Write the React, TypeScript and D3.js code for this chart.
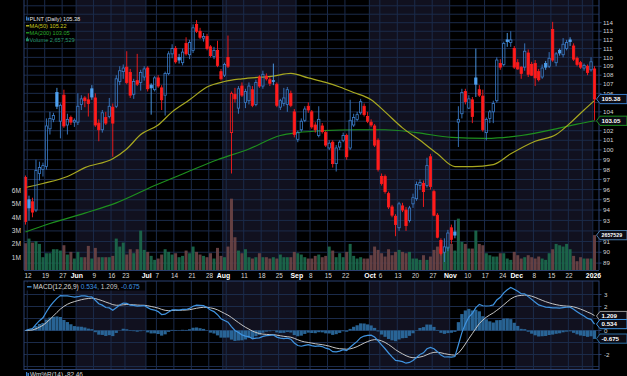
import React from "react";
import * as d3 from "d3";

// ---------- DATA ----------
const OPEN = [
  97.2, 95.0, 94.8, 94.0, 97.6, 98.0, 98.3, 102.2, 103.2, 106.1,
  103.0, 105.8, 102.6, 103.4, 102.9, 102.9, 104.8, 105.5, 105.3, 106.5,
  105.5, 102.8, 102.1, 103.4, 103.5, 104.5, 104.6, 107.3, 108.4, 108.9,
  108.3, 105.9, 107.4, 107.2, 107.8, 108.8, 106.9, 106.4, 107.7, 106.6,
  105.8, 108.2, 110.4, 111.0, 110.0, 109.4, 111.6, 110.3, 110.8, 113.8,
  113.0, 112.2, 112.4, 111.2, 110.1, 110.8, 108.4, 108.0, 110.0, 101.8,
  105.9, 104.4, 106.8, 105.0, 105.2, 106.4, 104.8, 107.8, 106.8, 107.9,
  107.5, 107.4, 107.0, 104.5, 104.9, 104.8, 106.0, 104.0, 101.1, 102.1,
  103.1, 104.6, 104.0, 102.6, 101.5, 102.5, 101.8, 100.2, 100.8, 98.6,
  100.3, 101.0, 101.5, 100.2, 102.6, 103.2, 103.9, 104.6, 103.5, 102.9,
  102.5, 101.0, 97.3, 97.3, 95.6, 94.3, 93.4, 92.3, 94.4, 94.0,
  93.0, 94.6, 95.1, 96.4, 96.6, 96.4, 99.3, 95.8, 93.5, 91.1,
  90.0, 90.4, 92.3, 91.9, 102.9, 103.8, 106.2, 104.4, 105.3, 107.7,
  106.4, 105.7, 101.8, 103.3, 104.0, 105.2, 109.3, 109.2, 112.0, 111.7,
  111.0, 109.4, 108.9, 108.9, 110.5, 109.2, 109.3, 108.4, 107.8, 109.3,
  109.0, 113.2, 109.4, 110.8, 110.3, 111.0, 112.0, 111.3, 109.9, 109.4,
  108.8, 109.0, 108.6, 108.7,
];
const HIGH = [
  97.4, 95.4, 95.2, 99.0, 98.8, 98.7, 103.3, 104.0, 103.9, 106.6,
  104.9, 106.4, 103.8, 103.6, 103.3, 106.0, 105.8, 105.7, 106.0, 106.9,
  106.0, 103.2, 104.2, 104.0, 105.5, 104.9, 108.0, 109.0, 109.2, 110.7,
  108.7, 107.6, 110.4, 108.6, 109.0, 109.0, 107.1, 107.9, 108.0, 106.9,
  108.4, 110.7, 111.5, 111.3, 110.4, 111.0, 112.3, 112.0, 113.8, 114.3,
  113.4, 112.8, 112.7, 111.4, 111.2, 111.9, 108.7, 109.4, 112.5, 106.2,
  106.6, 106.8, 107.2, 106.5, 107.2, 106.8, 107.5, 108.0, 108.5, 108.2,
  107.8, 109.3, 107.2, 105.4, 106.6, 106.7, 106.3, 104.3, 102.0, 103.3,
  104.6, 105.0, 104.2, 102.9, 104.6, 102.8, 102.0, 101.0, 101.0, 100.5,
  101.0, 101.8, 101.7, 105.3, 103.8, 104.0, 105.4, 104.9, 104.0, 103.2,
  102.7, 101.2, 97.6, 97.5, 95.8, 94.5, 93.6, 94.8, 94.7, 94.3,
  94.4, 95.6, 96.8, 97.0, 96.9, 99.2, 99.6, 96.0, 93.7, 91.3,
  91.3, 92.1, 92.6, 93.0, 104.6, 106.5, 106.5, 105.8, 105.6, 111.0,
  106.9, 106.4, 103.4, 104.2, 105.2, 110.0, 109.8, 111.8, 112.8, 113.0,
  111.3, 109.8, 109.0, 111.6, 110.9, 109.5, 109.7, 108.7, 109.2, 109.6,
  110.6, 114.1, 110.6, 111.0, 112.2, 112.0, 112.3, 111.6, 110.1, 109.6,
  109.3, 109.2, 110.0, 109.0,
];
const LOW = [
  92.6, 93.0, 93.3, 93.8, 96.9, 97.3, 98.0, 101.6, 102.9, 104.3,
  101.2, 102.3, 101.6, 102.6, 102.4, 102.6, 104.2, 104.5, 103.5, 105.3,
  102.4, 100.9, 101.8, 102.6, 103.3, 99.3, 104.4, 106.9, 107.6, 107.0,
  105.5, 105.4, 106.8, 106.3, 107.4, 106.2, 103.7, 106.2, 106.6, 104.2,
  103.6, 108.0, 109.9, 109.3, 109.3, 109.1, 110.2, 109.8, 110.5, 112.8,
  112.1, 111.8, 110.8, 110.0, 109.8, 108.9, 107.4, 107.8, 108.8, 97.6,
  105.0, 103.8, 105.6, 104.4, 104.8, 104.5, 104.6, 106.6, 106.5, 107.4,
  106.8, 106.9, 104.5, 104.2, 104.6, 104.0, 104.5, 101.3, 100.8, 101.9,
  102.9, 103.9, 102.2, 101.8, 101.3, 101.7, 100.3, 100.0, 98.2, 97.8,
  100.0, 100.8, 99.0, 100.0, 102.4, 103.0, 103.7, 103.5, 102.8, 102.4,
  100.3, 97.8, 96.4, 95.6, 94.1, 93.3, 91.5, 92.0, 93.8, 92.0,
  92.8, 94.2, 94.9, 96.0, 94.3, 96.2, 96.0, 93.4, 91.3, 89.7,
  89.1, 90.1, 90.8, 91.3, 100.3, 103.3, 104.8, 104.3, 102.8, 105.6,
  105.6, 101.9, 101.0, 102.8, 102.8, 105.0, 108.6, 109.0, 111.2, 111.2,
  108.7, 108.6, 107.6, 108.5, 107.8, 107.9, 106.8, 107.3, 107.6, 108.6,
  108.8, 109.5, 109.0, 110.2, 110.0, 110.8, 111.3, 109.6, 109.0, 108.7,
  108.5, 108.0, 108.4, 103.1,
];
const CLOSE = [
  92.9, 94.2, 93.8, 97.9, 98.2, 98.4, 102.5, 103.3, 103.6, 104.6,
  104.7, 102.5, 103.2, 102.9, 103.1, 104.6, 105.4, 105.2, 104.9, 105.6,
  102.6, 102.1, 103.9, 102.8, 104.6, 102.8, 107.6, 108.5, 108.8, 107.2,
  105.8, 107.3, 107.0, 108.3, 108.7, 106.5, 106.6, 107.7, 106.8, 105.3,
  108.2, 110.4, 111.0, 109.5, 109.7, 110.6, 110.4, 111.7, 113.4, 113.0,
  112.3, 112.4, 111.0, 110.2, 110.8, 109.1, 107.6, 109.2, 109.0, 106.0,
  105.4, 106.5, 105.8, 106.2, 106.8, 104.7, 107.2, 106.8, 108.1, 107.6,
  107.1, 107.3, 104.7, 105.2, 105.5, 106.4, 104.7, 101.6, 101.8, 103.0,
  104.3, 104.2, 102.4, 102.1, 103.2, 101.9, 100.5, 100.7, 98.6, 100.2,
  100.8, 101.5, 99.3, 103.1, 103.4, 103.7, 105.1, 103.7, 103.0, 102.6,
  100.5, 98.0, 96.6, 95.8, 94.3, 93.5, 92.6, 94.6, 94.0, 92.5,
  94.2, 95.2, 96.5, 96.7, 95.8, 98.4, 96.3, 93.5, 91.4, 89.9,
  90.5, 91.8, 91.2, 91.6, 103.2, 106.1, 105.1, 105.4, 103.5, 107.0,
  105.8, 102.1, 103.2, 104.0, 104.9, 109.7, 108.9, 111.6, 111.8, 112.0,
  108.9, 108.7, 108.2, 110.7, 108.1, 108.0, 107.7, 107.5, 108.8, 108.9,
  109.9, 109.7, 110.4, 110.5, 111.5, 111.7, 111.8, 109.8, 109.2, 108.9,
  109.1, 108.3, 109.5, 105.38,
];
const VOLUME_M = [
  2.05, 2.4, 2.1, 2.2, 2.0, 1.0, 1.3, 1.3, 1.6, 1.6,
  1.5, 1.9, 1.2, 1.4, 0.9, 1.4, 1.0, 1.0, 1.85, 0.9,
  1.7, 1.0, 1.0, 1.0, 1.0, 1.1, 2.4, 1.8, 2.1, 1.2,
  1.6, 1.3, 1.6, 3.0, 1.55, 1.4, 1.1, 0.8, 0.9, 1.2,
  1.6, 1.4, 1.2, 1.3, 1.0, 1.1, 1.5, 1.3, 1.8, 1.4,
  1.2, 1.1, 1.0, 1.3, 0.9, 1.7, 1.1, 1.0, 1.8, 5.4,
  2.5, 1.5, 1.3, 1.6, 1.0, 0.9, 1.0, 1.3, 1.0, 1.0,
  0.9, 1.0, 0.9, 1.2, 1.0, 1.0, 1.0, 1.4, 1.3, 1.2,
  1.0, 0.9, 0.9, 1.1, 1.2, 1.0, 1.1, 1.8, 1.5, 1.0,
  1.3, 1.0, 1.4, 2.0, 1.1, 0.9, 1.0, 0.9, 0.9, 1.15,
  1.8, 1.55, 1.3, 1.05, 1.6, 1.15, 1.4, 1.55, 1.4, 1.3,
  1.4, 0.9, 0.9, 0.8, 1.15, 0.8, 1.05, 1.55, 1.8, 1.65,
  1.4, 1.8, 2.0, 1.5, 3.9, 2.15, 2.0, 1.65, 1.65, 3.0,
  2.0, 1.9, 1.3, 1.15, 1.05, 1.05, 1.3, 1.3, 0.9, 0.8,
  1.4, 1.15, 0.9, 1.0, 1.15, 1.0, 0.9, 1.05, 0.9, 0.8,
  1.3, 1.6, 2.0, 1.9, 1.8, 2.0, 1.6, 1.1, 0.7, 1.0,
  0.9, 0.9, 0.9, 2.66,
];
const MA50_AT = [0, 5, 12, 17, 25, 29, 33, 38, 42, 47, 52, 57, 62, 71, 76, 81, 86, 90, 94, 99, 103, 108, 113, 118, 123, 128, 134, 139, 146, 152, 156, 160, 163];
const MA50_VAL = [96.2, 96.6, 97.3, 98.2, 99.1, 100.1, 101.6, 102.6, 104.0, 105.3, 106.7, 107.3, 107.6, 107.9, 108.2, 107.7, 107.2, 106.7, 106.1, 105.3, 104.0, 102.3, 101.0, 99.6, 98.3, 98.3, 98.5, 99.6, 100.9, 101.6, 102.8, 104.2, 105.22];
const MA200_AT = [0, 7, 17, 26, 37, 46, 55, 64, 73, 78, 85, 95, 103, 112, 122, 132, 142, 152, 158, 163];
const MA200_VAL = [91.9, 92.7, 93.7, 94.7, 96.4, 97.7, 99.0, 100.1, 101.5, 101.8, 102.0, 102.1, 102.1, 101.8, 101.3, 101.2, 101.5, 102.2, 102.7, 103.05];

const PRICE_TICKS = [89, 90, 91, 92, 93, 94, 95, 96, 97, 98, 99, 100, 101, 102, 103, 104, 105, 106, 107, 108, 109, 110, 111, 112, 113, 114];
const PRICE_GRID = [88, 89, 90, 91, 92, 93, 94, 95, 96, 97, 98, 99, 100, 101, 102, 103, 104, 105, 106, 107, 108, 109, 110, 111, 112, 113, 114, 115, 116, 117];
const VOL_TICKS = [1, 2, 3, 4, 5, 6];
const VOL_TICK_TEXT = ["1M", "2M", "3M", "4M", "5M", "6M"];
const MACD_TICKS = [3, 2, 1, 0, -1, -2];
const MACD_GRID = [3, 2, 1, 0, -1, -2, -3];
const DATE_TICK_AT = [1, 6, 11, 15, 20, 25, 29, 35, 38, 43, 48, 53, 57, 63, 68, 73, 78, 82, 87, 92, 99, 102, 107, 112, 117, 122, 127, 132, 137, 141, 146, 151, 156, 163];
const DATE_TICK_TEXT = ["12", "19", "27", "Jun", "9", "16", "23", "Jul", "7", "14", "21", "28", "Aug", "11", "18", "25", "Sep", "8", "15", "22", "Oct", "6", "13", "20", "27", "Nov", "10", "17", "24", "Dec", "8", "15", "22", "2026"];
const DATE_TICK_BOLD = ["Jun", "Jul", "Aug", "Sep", "Oct", "Nov", "Dec", "2026"];
const GRID_EXTRA_AT = [58, 160];
const SHADE_FROM = [15, 57, 99, 141];
const SHADE_TO = [35, 78, 122, 163];
const LAST_PRICE = 105.38;
const LAST_MA200 = 103.05;
const LAST_VOLUME_M = 2.657529;
const LAST_MACD = 0.534;
const LAST_SIGNAL = 1.209;
const LAST_HIST = -0.675;

// ---------- STYLE ----------
const FONT = "'Liberation Sans', Arial, sans-serif";
const STEP = 3.491;
const X0 = 25.5;
const PL = 24, PR = 599;
const MAIN_T = 0, MAIN_B = 270;
const MACD_T = 281, MACD_B = 369.5;
const C_BG = "#000000";
const C_SHADE = "#11111f";
const C_GRID = "#1b2b4a";
const C_BORDER = "#2b4170";
const C_UP = "#3a7cc8";
const C_UPFILL = "#4fa0ee";
const C_DN = "#ff1c1c";
const C_MA50 = "#a8a820";
const C_MA200 = "#1e901e";
const C_VUP = "#1c6a4c";
const C_VDN = "#6c4446";
const C_MACD = "#3f93e0";
const C_SIG = "#c4c4c4";
const C_HIST = "#2c6ea3";
const C_AXIS = "#d4d4d4";

function ema(arr: number[], p: number): number[] {
  const k = 2 / (p + 1);
  const out: number[] = [];
  arr.forEach((v, i) => out.push(i === 0 ? v : v * k + out[i - 1] * (1 - k)));
  return out;
}

export default function App() {
  const n = CLOSE.length;
  const x = d3.scaleLinear().domain([0, n - 1]).range([X0, X0 + (n - 1) * STEP]);
  const yP = d3.scaleLog().domain([89, 114]).range([263.1, 22.7]);
  const yV = d3.scaleLinear().domain([0, 6]).range([270.5, 190.7]);
  const yM = d3.scaleLinear().domain([-3, 3]).range([366.5, 294.5]);

  const e12 = ema(CLOSE, 12);
  const e26 = ema(CLOSE, 26);
  const macd = e12.map((v, i) => v - e26[i]);
  const signal = ema(macd, 9);
  const hist = macd.map((v, i) => v - signal[i]);

  const idx = d3.range(n);
  const up = (i: number) => (i === 0 ? CLOSE[0] >= OPEN[0] : CLOSE[i] >= CLOSE[i - 1]);

  const maLine = d3.line<[number, number]>().x((d) => x(d[0])).y((d) => yP(d[1])).curve(d3.curveMonotoneX);
  const ma50Path = maLine(MA50_AT.map((a, k) => [a, MA50_VAL[k]] as [number, number])) || "";
  const ma200Path = maLine(MA200_AT.map((a, k) => [a, MA200_VAL[k]] as [number, number])) || "";
  const mLine = d3.line<number>().x((_, i) => x(i)).y((d) => yM(d));
  const macdPath = mLine(macd) || "";
  const sigPath = mLine(signal) || "";

  const gridXs = [...DATE_TICK_AT, ...GRID_EXTRA_AT].map((i) => x(i) - STEP / 2);

  const priceTagYs = [yP(LAST_PRICE), yP(LAST_MA200), yV(LAST_VOLUME_M)];
  const macdTagYs = [yM(LAST_SIGNAL), yM(LAST_MACD), yM(LAST_HIST)];
  const clear = (yy: number, tags: number[]) => tags.every((t) => Math.abs(t - yy) >= 5.2);

  const tag = (yc: number, text: string, stroke: string, fs: number, key: string) => (
    <g key={key}>
      <path
        d={`M596.5,${yc} L600,${yc - 4.6} L627,${yc - 4.6} L627,${yc + 4.6} L600,${yc + 4.6} Z`}
        fill="#0b0b14"
        stroke={stroke}
        strokeWidth={1}
      />
      <text x={601.5} y={yc} dy="0.36em" fontSize={fs} fill="#ffffff" fontWeight="bold" fontFamily={FONT}>
        {text}
      </text>
    </g>
  );

  return (
    <svg width={627} height={376} style={{ position: "fixed", left: 0, top: 0, display: "block" }}>
      <defs>
        <clipPath id="mainClip">
          <rect x={PL} y={MAIN_T} width={PR - PL} height={MAIN_B - MAIN_T} />
        </clipPath>
        <clipPath id="macdClip">
          <rect x={PL} y={MACD_T} width={PR - PL} height={MACD_B - MACD_T} />
        </clipPath>
      </defs>
      <rect x={0} y={0} width={627} height={376} fill={C_BG} />

      {/* month shading */}
      {SHADE_FROM.map((a, k) => (
        <g key={"sh" + k}>
          <rect x={x(a) - STEP / 2} y={MAIN_T} width={x(SHADE_TO[k]) - x(a)} height={MAIN_B - MAIN_T} fill={C_SHADE} />
          <rect x={x(a) - STEP / 2} y={MACD_T} width={x(SHADE_TO[k]) - x(a)} height={MACD_B - MACD_T} fill={C_SHADE} />
        </g>
      ))}

      {/* grids */}
      <g clipPath="url(#mainClip)">
        {PRICE_GRID.map((p) => (
          <line key={"hg" + p} x1={PL} x2={PR} y1={yP(p)} y2={yP(p)} stroke={C_GRID} strokeWidth={1} />
        ))}
        {gridXs.map((gx, k) => (
          <line key={"vg" + k} x1={gx} x2={gx} y1={MAIN_T} y2={MAIN_B} stroke={C_GRID} strokeWidth={1} />
        ))}
      </g>
      <g clipPath="url(#macdClip)">
        {MACD_GRID.map((m) => (
          <line key={"mg" + m} x1={PL} x2={PR} y1={yM(m)} y2={yM(m)} stroke={C_GRID} strokeWidth={1} />
        ))}
        {gridXs.map((gx, k) => (
          <line key={"mvg" + k} x1={gx} x2={gx} y1={MACD_T} y2={MACD_B} stroke={C_GRID} strokeWidth={1} />
        ))}
      </g>

      {/* volume */}
      <g clipPath="url(#mainClip)" opacity={0.92}>
        {idx.map((i) => (
          <rect
            key={"v" + i}
            x={x(i) - 1.5}
            y={yV(VOLUME_M[i])}
            width={3}
            height={yV(0) - yV(VOLUME_M[i])}
            fill={up(i) ? C_VUP : C_VDN}
          />
        ))}
      </g>

      {/* moving averages */}
      <g clipPath="url(#mainClip)" fill="none">
        <path d={ma200Path} stroke={C_MA200} strokeWidth={1.2} />
        <path d={ma50Path} stroke={C_MA50} strokeWidth={1.2} />
      </g>

      {/* candles */}
      <g clipPath="url(#mainClip)">
        {idx.map((i) => {
          const o = OPEN[i], c = CLOSE[i];
          const col = up(i) ? C_UP : C_DN;
          const hollow = c >= o;
          const top = yP(Math.max(o, c));
          const bot = yP(Math.min(o, c));
          const h = Math.max(0.9, bot - top);
          const cx = x(i);
          const fillCol = hollow ? "none" : up(i) ? C_UPFILL : C_DN;
          const strokeCol = !hollow && up(i) ? C_UPFILL : col;
          return (
            <g key={"c" + i}>
              <line x1={cx} x2={cx} y1={yP(HIGH[i])} y2={top} stroke={strokeCol} strokeWidth={0.9} />
              <line x1={cx} x2={cx} y1={top + h} y2={yP(LOW[i])} stroke={strokeCol} strokeWidth={0.9} />
              <rect x={cx - 1.15} y={top} width={2.3} height={h} fill={fillCol} stroke={strokeCol} strokeWidth={0.8} />
            </g>
          );
        })}
      </g>

      {/* MACD */}
      <g clipPath="url(#macdClip)">
        {idx.map((i) => (
          <rect
            key={"h" + i}
            x={x(i) - 1.6}
            y={Math.min(yM(0), yM(hist[i]))}
            width={3.2}
            height={Math.abs(yM(hist[i]) - yM(0))}
            fill={C_HIST}
            opacity={0.9}
          />
        ))}
        <path d={sigPath} fill="none" stroke={C_SIG} strokeWidth={1} />
        <path d={macdPath} fill="none" stroke={C_MACD} strokeWidth={1.2} />
      </g>

      {/* panel borders */}
      <g fill="none" stroke={C_BORDER} strokeWidth={1}>
        <line x1={PL} x2={PL} y1={0} y2={MAIN_B} />
        <line x1={PR} x2={PR} y1={0} y2={MAIN_B} />
        <line x1={PL} x2={PR} y1={MAIN_B + 0.5} y2={MAIN_B + 0.5} />
        <rect x={PL} y={MACD_T} width={PR - PL} height={MACD_B - MACD_T} />
      </g>

      {/* right price axis */}
      <g fontFamily={FONT} fontSize={6.2} fill={C_AXIS}>
        {PRICE_TICKS.map((p) => (
          <g key={"pt" + p}>
            <line x1={PR} x2={PR + 2.5} y1={yP(p)} y2={yP(p)} stroke={C_BORDER} />
            {clear(yP(p), priceTagYs) && (
              <text x={603} y={yP(p)} dy="0.35em">
                {p}
              </text>
            )}
          </g>
        ))}
      </g>

      {/* left volume axis */}
      <g fontFamily={FONT} fontSize={6.6} fill={C_AXIS} textAnchor="end">
        {VOL_TICKS.map((v, k) => (
          <text key={"vt" + v} x={21} y={yV(v)} dy="0.35em">
            {VOL_TICK_TEXT[k]}
          </text>
        ))}
      </g>

      {/* MACD axis */}
      <g fontFamily={FONT} fontSize={6.2} fill={C_AXIS}>
        {MACD_TICKS.map((m) => (
          <g key={"mt" + m}>
            <line x1={PR} x2={PR + 2.5} y1={yM(m)} y2={yM(m)} stroke={C_BORDER} />
            {clear(yM(m), macdTagYs) && (
              <text x={604} y={yM(m)} dy="0.35em">
                {m}
              </text>
            )}
          </g>
        ))}
      </g>

      {/* date labels */}
      <g fontFamily={FONT} textAnchor="middle">
        {DATE_TICK_AT.map((i, k) => {
          const t = DATE_TICK_TEXT[k];
          const bold = DATE_TICK_BOLD.includes(t);
          return (
            <text
              key={"dt" + k}
              x={x(i) - 1}
              y={276}
              dy="0.35em"
              fontSize={bold ? 6.9 : 6.4}
              fontWeight={bold ? "bold" : "normal"}
              fill={bold ? "#ffffff" : "#d8d8d8"}
            >
              {t}
            </text>
          );
        })}
      </g>

      {/* value tags */}
      {tag(yP(LAST_PRICE), "105.38", C_UP, 6.2, "t1")}
      {tag(yP(LAST_MA200), "103.05", C_MA200, 6.2, "t2")}
      {tag(yV(LAST_VOLUME_M), "2657529", "#4a78a8", 5.3, "t3")}
      {tag(yM(LAST_SIGNAL), "1.209", "#9a9a9a", 6.2, "t4")}
      {tag(yM(LAST_MACD), "0.534", C_MACD, 6.2, "t5")}
      {tag(yM(LAST_HIST), "-0.675", C_HIST, 6.2, "t6")}

      {/* main legend */}
      <g fontFamily={FONT} fontSize={5.6}>
        <rect x={25} y={15.5} width={53} height={6.5} fill="#000" opacity={0.8} />
        <rect x={25} y={22.5} width={40} height={6.5} fill="#000" opacity={0.8} />
        <rect x={25} y={29.5} width={42} height={6.5} fill="#000" opacity={0.8} />
        <rect x={25} y={36.5} width={48} height={6.5} fill="#000" opacity={0.8} />
        <rect x={26} y={16.5} width={1.2} height={4} fill={C_UP} />
        <rect x={27.6} y={17.5} width={1.2} height={3} fill={C_UPFILL} />
        <text x={29.6} y={18.9} dy="0.35em" fill="#e2e2e2">PLNT (Daily) 105.38</text>
        <line x1={26} x2={29.3} y1={25.8} y2={25.8} stroke="#cccc22" strokeWidth={1.3} />
        <text x={29.6} y={25.8} dy="0.35em" fill="#c8c81e">MA(50) 105.22</text>
        <line x1={26} x2={29.3} y1={32.8} y2={32.8} stroke="#26a626" strokeWidth={1.3} />
        <text x={29.6} y={32.8} dy="0.35em" fill="#2aa82a">MA(200) 103.05</text>
        <rect x={26} y={38.3} width={0.9} height={3} fill="#2a9a70" />
        <rect x={27.1} y={37.3} width={0.9} height={4} fill="#2a9a70" />
        <rect x={28.2} y={38.8} width={0.9} height={2.5} fill="#2a9a70" />
        <text x={29.6} y={39.8} dy="0.35em" fill="#2a9a70">Volume 2,657,529</text>
      </g>

      {/* MACD legend */}
      <g fontFamily={FONT} fontSize={6.6}>
        <rect x={25} y={282.5} width={120} height={8} fill="#000" opacity={0.85} />
        <line x1={27} x2={31.5} y1={286.8} y2={286.8} stroke={C_MACD} strokeWidth={1.3} />
        <text x={33} y={286.8} dy="0.35em" fill="#d8d8d8">
          MACD(12,26,9) <tspan fill={C_MACD}>0.534,</tspan> <tspan fill="#c8c8c8">1.209,</tspan>{" "}
          <tspan fill={C_MACD}>-0.675</tspan>
        </text>
      </g>

      {/* next panel legend (cut off at bottom, as in the reference) */}
      <g fontFamily={FONT} fontSize={6.4}>
        <rect x={26} y={372} width={1.2} height={4} fill={C_UP} />
        <rect x={27.6} y={373} width={1.2} height={3} fill={C_UPFILL} />
        <text x={30} y={377}>
          <tspan fill="#d8d8d8">Wm%R(14) -82.46</tspan>
        </text>
      </g>
    </svg>
  );
}
